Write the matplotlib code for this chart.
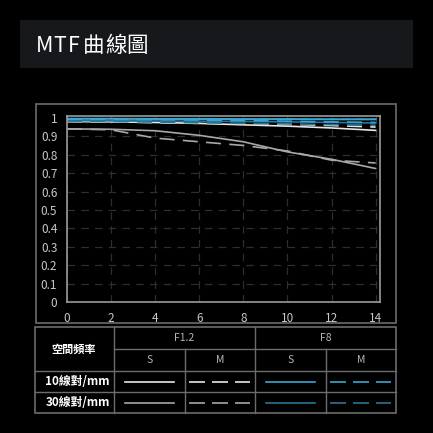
import numpy as np
import matplotlib.pyplot as plt
from matplotlib.patches import Rectangle

plt.rcParams['font.family'] = ['Noto Sans CJK TC', 'DejaVu Sans']

# 數據 (空間頻率位置 mm)
pos = [0, 2, 4, 6, 8, 10, 12, 14]
f12_s10 = [0.980, 0.978, 0.975, 0.970, 0.962, 0.955, 0.945, 0.932]
f12_m10 = [0.980, 0.978, 0.974, 0.970, 0.968, 0.965, 0.958, 0.950]
f8_s10 = [0.995, 0.995, 0.994, 0.994, 0.993, 0.993, 0.992, 0.992]
f8_m10 = [0.993, 0.992, 0.990, 0.988, 0.985, 0.982, 0.978, 0.975]
f12_s30 = [0.940, 0.938, 0.930, 0.905, 0.870, 0.815, 0.775, 0.725]
f12_m30 = [0.940, 0.935, 0.890, 0.870, 0.850, 0.820, 0.770, 0.755]
f8_s30 = [0.985, 0.984, 0.983, 0.982, 0.980, 0.978, 0.975, 0.972]
f8_m30 = [0.983, 0.980, 0.977, 0.973, 0.970, 0.967, 0.963, 0.960]

xticks = [0, 2, 4, 6, 8, 10, 12, 14]
yticks = [0, 0.1, 0.2, 0.3, 0.4, 0.5, 0.6, 0.7, 0.8, 0.9, 1]
ytick_labels = ['0', '0.1', '0.2', '0.3', '0.4', '0.5', '0.6', '0.7', '0.8', '0.9', '1']

W = 433
white = '#e6e6e6'
gray = '#a8a8a8'
blue = '#3aa6d4'
dblue = '#2a7593'
line_c = '#6c6c6c'
dash = (0, (9, 5))

fig = plt.figure(figsize=(4.33, 4.33), dpi=100, facecolor='black')

# 背景層 (像素座標)
bg = fig.add_axes([0, 0, 1, 1], zorder=0)
bg.set_xlim(0, W)
bg.set_ylim(W, 0)
bg.axis('off')
bg.set_facecolor('black')

bg.add_patch(Rectangle((20, 20), 393, 48, facecolor='#16181b', edgecolor='none'))
# 標題字距較寬，逐字放置
title_chars = ['M', 'T', 'F', '曲', '線', '圖']
title_x = [45, 60, 74, 93.5, 115.5, 137.5]
for ch, tx in zip(title_chars, title_x):
    bg.text(tx, 45.5, ch, color='white', fontsize=15.5, fontweight='medium',
            va='center', ha='center')

# 圖表外框
bg.add_patch(Rectangle((36, 104), 360, 219, facecolor='black', edgecolor=line_c, lw=1.2))

# 表格
tl, tr, tt, tb = 35, 396, 327, 413
cols = [35, 114, 185, 255, 326, 396]
rows = [327, 349, 371, 392, 413]
bg.add_patch(Rectangle((tl, tt), tr - tl, tb - tt, facecolor='none', edgecolor=line_c, lw=1.2))
bg.plot([114, 114], [tt, tb], color=line_c, lw=1)
bg.plot([255, 255], [tt, tb], color=line_c, lw=1)
bg.plot([185, 185], [rows[1], tb], color=line_c, lw=1)
bg.plot([326, 326], [rows[1], tb], color=line_c, lw=1)
bg.plot([114, tr], [rows[1], rows[1]], color=line_c, lw=1)
bg.plot([tl, tr], [rows[2], rows[2]], color=line_c, lw=1)
bg.plot([tl, tr], [rows[3], rows[3]], color=line_c, lw=1)

bg.text(74, 349, '空間頻率', color='white', fontsize=8, fontweight='bold', ha='center', va='center')
bg.text(184.5, 338, 'F1.2', color='#b5b5b5', fontsize=7.5, ha='center', va='center')
bg.text(325.5, 338, 'F8', color='#b5b5b5', fontsize=7.5, ha='center', va='center')
for i, lab in enumerate(['S', 'M', 'S', 'M']):
    bg.text((cols[i + 1] + cols[i + 2]) / 2, 360, lab, color='#b5b5b5', fontsize=7.5,
            ha='center', va='center')
bg.text(110, 381.5, '10線對/mm', color='white', fontsize=8.5, fontweight='bold', ha='right', va='center')
bg.text(110, 402.5, '30線對/mm', color='white', fontsize=8.5, fontweight='bold', ha='right', va='center')

samples = [(white, gray), (white, gray), (blue, dblue), (blue, dblue)]
for i in range(4):
    if i % 2 == 0:
        x0, x1 = cols[i + 1] + 11, cols[i + 2] - 11
        ls = '-'
    else:
        x0, x1 = cols[i + 1] + 4, cols[i + 2] - 5
        ls = (0, (9.6, 4.2))
    bg.plot([x0, x1], [382, 382], color=samples[i][0], lw=1.2, linestyle=ls)
    bg.plot([x0, x1], [403, 403], color=samples[i][1], lw=1.2, linestyle=ls)

# 曲線圖
ax = fig.add_axes([67 / W, 1 - 302 / W, (380 - 67) / W, (302 - 116) / W], zorder=2)
ax.set_facecolor('black')
ax.set_xlim(0, 14.2)
ax.set_ylim(0, 1.01)
ax.set_xticks(xticks)
ax.set_yticks(yticks)
ax.set_yticklabels(ytick_labels)
ax.tick_params(colors='#c8c8c8', labelsize=8.5, length=0, pad=7)
for s in ax.spines.values():
    s.set_color('#9a9a9a')
    s.set_linewidth(1.2)
ax.grid(True, color='#2e2e2e', linestyle=(0, (6, 5)), lw=0.9)
ax.set_axisbelow(True)

ax.plot(pos, f12_s30, color=gray, lw=1.2)
ax.plot(pos, f12_m30, color=gray, lw=1.2, linestyle=dash)
ax.plot(pos, f12_m10, color=white, lw=1.2, linestyle=dash)
ax.plot(pos, f12_s10, color=white, lw=1.2)
ax.plot(pos, f8_m30, color=dblue, lw=1.2, linestyle=dash)
ax.plot(pos, f8_s30, color=dblue, lw=1.2)
ax.plot(pos, f8_m10, color=blue, lw=1.2, linestyle=dash)
ax.plot(pos, f8_s10, color=blue, lw=1.5)

fig.savefig('out.png', dpi=100, facecolor='black')
